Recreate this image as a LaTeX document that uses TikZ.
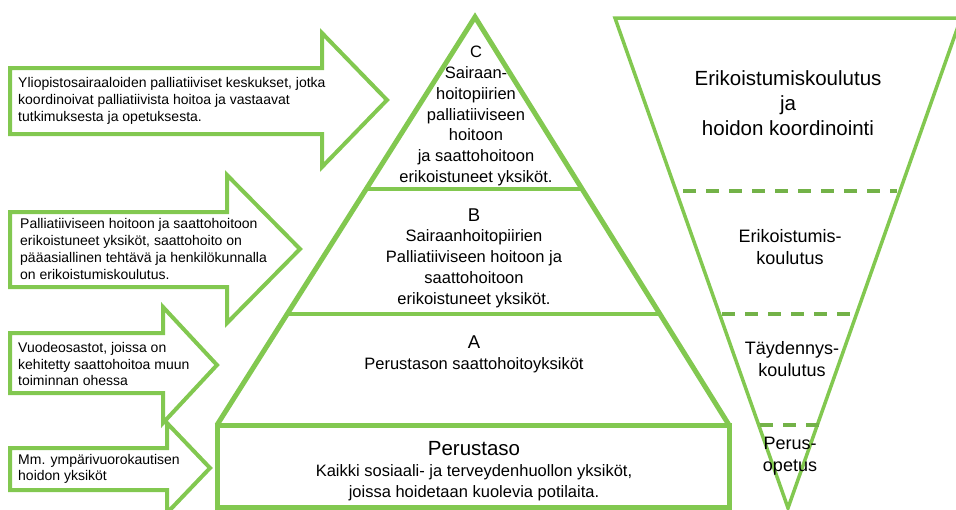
\documentclass[tikz,border=0pt]{standalone}
\usepackage{fontspec}
\setmainfont{Liberation Sans}
\definecolor{vihrea}{RGB}{130,200,80}
\definecolor{katko}{RGB}{115,178,72}

\begin{document}
\begin{tikzpicture}[x=1pt, y=-1pt,
    reuna/.style={draw=vihrea, line width=5pt},
    nuoli/.style={draw=vihrea, line width=4pt, fill=white},
    raja/.style={draw=katko, line width=4pt, dash pattern=on 13pt off 10pt},
    nuoliteksti/.style={anchor=west, align=left, inner sep=0pt, font=\fontsize{14}{16.7}\selectfont},
    tasoteksti/.style={align=center, inner sep=0pt, font=\fontsize{16.5}{20.8}\selectfont},
    koulutusteksti/.style={align=center, inner sep=0pt, font=\fontsize{18}{22.5}\selectfont}]

    \useasboundingbox (0,0) rectangle (956,509);

    % --- NUOLET VASEMMALLA ---
    \draw[nuoli] (10,68) -- (322,68) -- (322,33) -- (387,100) -- (322,167) -- (322,134) -- (10,134) -- cycle;
    \draw[nuoli] (10,212) -- (227,212) -- (227,175) -- (300,249) -- (227,323) -- (227,287) -- (10,287) -- cycle;
    \draw[nuoli] (10,333) -- (163,333) -- (163,307) -- (217,365) -- (163,423) -- (163,393) -- (10,393) -- cycle;
    \draw[nuoli] (10,448) -- (167,448) -- (167,423) -- (210,468) -- (167,513) -- (167,490) -- (10,490) -- cycle;

    \node[nuoliteksti] (yliopisto) at (18,101) {Yliopistosairaaloiden palliatiiviset keskukset, jotka\\koordinoivat palliatiivista hoitoa ja vastaavat\\tutkimuksesta ja opetuksesta.};
    \node[nuoliteksti] (erikoistuneet) at (20,249) {Palliatiiviseen hoitoon ja saattohoitoon\\erikoistuneet yksiköt, saattohoito on\\pääasiallinen tehtävä ja henkilökunnalla\\on erikoistumiskoulutus.};
    \node[nuoliteksti] (vuodeosastot) at (18,364) {Vuodeosastot, joissa on\\kehitetty saattohoitoa muun\\toiminnan ohessa};
    \node[nuoliteksti] (ymparivuorokautinen) at (18,469) {Mm. ympärivuorokautisen\\hoidon yksiköt};

    % --- PYRAMIDI ---
    \coordinate (karki) at (475,17);
    \coordinate (vasen) at (217,425);
    \coordinate (oikea) at (729,425);

    \draw[reuna] (vasen) -- (karki) -- (oikea);
    \draw[reuna, line width=4pt] (366,189) -- (582,189); % C / B
    \draw[reuna, line width=4pt] (287,314) -- (660,314); % B / A
    \draw[reuna] (vasen) rectangle (729,507); % perustaso

    \node[tasoteksti] (tasoC) at (476,116) {C\\Sairaan-\\hoitopiirien\\palliatiiviseen\\hoitoon\\ja saattohoitoon\\erikoistuneet yksiköt.};
    \node[tasoteksti] (tasoB) at (474,258) {{\fontsize{18.5}{22}\selectfont B}\\Sairaanhoitopiirien\\Palliatiiviseen hoitoon ja\\saattohoitoon\\erikoistuneet yksiköt.};
    \node[tasoteksti] (tasoA) at (474,354) {{\fontsize{18.5}{22}\selectfont A}\\Perustason saattohoitoyksiköt};
    \node[tasoteksti] (perustaso) at (474,471) {{\fontsize{20.5}{24}\selectfont Perustaso}\\Kaikki sosiaali- ja terveydenhuollon yksiköt,\\joissa hoidetaan kuolevia potilaita.};

    % --- KOULUTUSKOLMIO ---
    \draw[draw=vihrea, line width=3.5pt] (615,18) -- (961,18) -- (788,508) -- cycle;
    \draw[raja] (683,191) -- (897,191);
    \draw[raja] (722,314) -- (860,314);
    \draw[raja] (760,425) -- (820,425);

    \node[align=center, inner sep=0pt, font=\fontsize{20.5}{25}\selectfont] (koordinointi) at (788,103) {Erikoistumiskoulutus\\ja\\hoidon koordinointi};
    \node[koulutusteksti] (erikoistumis) at (790,247) {Erikoistumis-\\koulutus};
    \node[koulutusteksti] (taydennys) at (792,359) {Täydennys-\\koulutus};
    \node[koulutusteksti] (perusopetus) at (790,456) {Perus-\\opetus};
\end{tikzpicture}
\end{document}
